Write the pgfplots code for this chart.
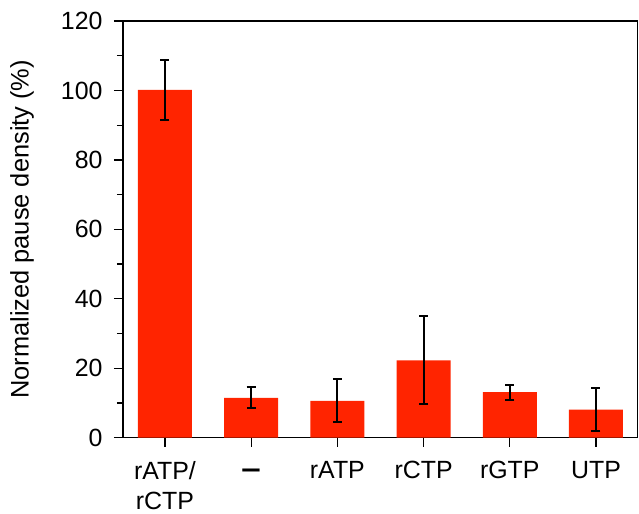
\documentclass[border=0pt]{standalone}
\usepackage{fontspec}
\setmainfont{Liberation Sans}
\usepackage{pgfplots}
\pgfplotsset{compat=1.18}
\definecolor{barred}{RGB}{255,36,0}
\begin{document}
\begin{tikzpicture}
\begin{axis}[
  scale only axis,
  width=514.7bp, height=416.7bp,
  xmin=-0.487, xmax=5.484,
  ymin=0, ymax=120,
  ytick={0,20,...,120},
  minor y tick num=1,
  xtick={0,1,2,3,4,5},
  xticklabels={{rATP/\\rCTP},{\vphantom{rATP}\textbf{\scalebox{1.4}[1.2]{--}}},rATP,rCTP,rGTP,UTP},
  xtick pos=bottom, ytick pos=left,
  tick align=outside,
  major tick length=9bp,
  minor tick length=6bp,
  tick style={black, line width=1.3bp},
  axis line style={line width=1.4bp, black},
  /pgf/number format/assume math mode=true,
  tick label style={font=\fontsize{25}{30}\selectfont},
  xticklabel style={align=center, anchor=north, yshift=-11bp},
  yticklabel style={anchor=east, xshift=-8bp},
  ylabel={Normalized pause density (\%)},
  every axis y label/.style={at={(rel axis cs:0,0.5)}, xshift=-101bp, rotate=90, anchor=center, font=\fontsize{25.5}{30}\selectfont},
  clip=false,
]
\addplot[ybar, bar width=54bp, fill=barred, draw=none,
  error bars/.cd, y dir=both, y explicit,
  error bar style={line width=2bp, black},
  error mark options={rotate=90, mark size=4.5bp, line width=2bp, black}]
  coordinates {
  (0,100.2) +- (0,8.7)
  (1,11.5) +- (0,3.0)
  (2,10.6) +- (0,6.2)
  (3,22.3) +- (0,12.7)
  (4,13.1) +- (0,2.2)
  (5,8.1) +- (0,6.1)
  };
\coordinate (sw) at (rel axis cs:0,0);
\coordinate (ne) at (rel axis cs:1,1);
\end{axis}
\draw[line width=2.4bp] (sw) -- (sw|-ne);
\pgfresetboundingbox
\path ([shift={(-123bp,-76.3bp)}]sw) rectangle ([shift={(1.3bp,21bp)}]ne);
\end{tikzpicture}
\end{document}
